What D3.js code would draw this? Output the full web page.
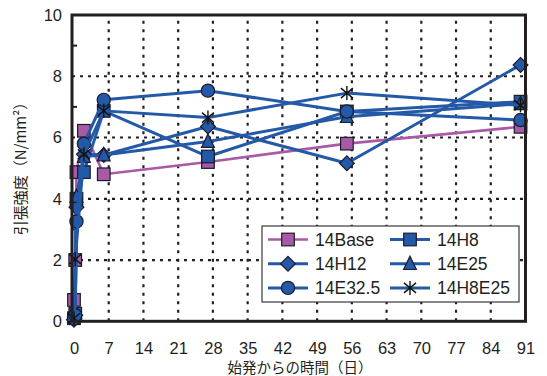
<!DOCTYPE html>
<html>
<head>
<meta charset="utf-8">
<script src="https://cdn.jsdelivr.net/npm/d3@7/dist/d3.min.js"></script>
<style>
  html, body { margin: 0; padding: 0; background: #fff; }
  svg { display: block; }
  text { font-family: "Liberation Sans", Arial, Helvetica, sans-serif; fill: #231f20; }
  .jp { font-family: "Noto Sans CJK JP", "Noto Sans", sans-serif; }
</style>
</head>
<body>
<svg id="chart" width="547" height="376"></svg>
<script>
// Elapsed time (days) at each measurement
const times = [0, 0.25, 0.5, 2, 6, 27, 55, 90];

// Tensile strength (N/mm²) per mix; null = not measured
const base  = [0.7, 2.0, 4.87, 6.22, 4.8, 5.2, 5.8, 6.35];
const h8    = [0.1, 0.25, 4.0, 4.87, 6.87, 5.38, 6.85, 7.17];
const h12   = [0.05, 0.2, 3.72, 5.45, 5.43, 6.36, 5.16, 8.37];
const e25   = [0.15, 0.3, 4.07, 5.38, 5.43, 5.87, 6.68, 7.1];
const e325  = [0.1, 0.2, 3.26, 5.8, 7.23, 7.53, 6.85, 6.57];
const h8e25 = [0.1, 2.03, null, 5.45, 6.87, 6.65, 7.45, 7.05];

const seriesNames = ["14Base", "14H8", "14H12", "14E25", "14E32.5", "14H8E25"];
const seriesValues = [base, h8, h12, e25, e325, h8e25];
const seriesShapes = ["square", "square", "diamond", "triangle", "circle", "star"];

const xTicks = [0, 7, 14, 21, 28, 35, 42, 49, 56, 63, 70, 77, 84, 91];
const yTicks = [0, 2, 4, 6, 8, 10];
const yMinor = [1, 3, 5, 7, 9];

const PINK = "#a85aa7", BLUE = "#2459a8", INK = "#231f20";
const colorOf = i => i === 0 ? PINK : BLUE;

const svg = d3.select("#chart");
const x = d3.scaleLinear().domain([-0.4, 91]).range([72, 525.5]);
const y = d3.scaleLinear().domain([0, 10]).range([321.3, 15]);

// dotted grid
const grid = svg.append("g");
grid.selectAll("line.h").data(yTicks.filter(v => v > 0 && v < 10)).enter().append("line")
  .attr("x1", x.range()[0]).attr("x2", x.range()[1])
  .attr("y1", d => y(d)).attr("y2", d => y(d))
  .attr("stroke", INK).attr("stroke-width", 2.2).attr("stroke-dasharray", "3,5");
grid.selectAll("line.v").data(xTicks.filter(v => v > 0 && v < 91)).enter().append("line")
  .attr("x1", d => x(d)).attr("x2", d => x(d))
  .attr("y1", y(0)).attr("y2", y(10))
  .attr("stroke", INK).attr("stroke-width", 2.2).attr("stroke-dasharray", "3,5.5");

// minor ticks on the left edge
svg.append("g").selectAll("line").data(yMinor).enter().append("line")
  .attr("x1", x.range()[0]).attr("x2", x.range()[0] + 5)
  .attr("y1", d => y(d)).attr("y2", d => y(d))
  .attr("stroke", INK).attr("stroke-width", 2);

// axes (labels only, the frame is drawn separately)
const xAxis = svg.append("g").attr("transform", `translate(0,${y(0)})`)
  .call(d3.axisBottom(x).tickValues(xTicks).tickSize(0).tickPadding(20.5));
const yAxis = svg.append("g").attr("transform", `translate(${x.range()[0]},0)`)
  .call(d3.axisLeft(y).tickValues(yTicks).tickSize(0).tickPadding(10));
[xAxis, yAxis].forEach(g => {
  g.select(".domain").remove();
  g.selectAll("text").attr("font-size", 16.5)
    .attr("font-family", "'Liberation Sans', Arial, sans-serif").attr("fill", INK);
});

// markers
function drawMarker(g, shape, cx, cy, fill) {
  const st = "#1b1b2a";
  if (shape === "square") {
    g.append("rect").attr("x", cx - 6.3).attr("y", cy - 6.3).attr("width", 12.6).attr("height", 12.6)
      .attr("fill", fill).attr("stroke", st).attr("stroke-width", 1.2);
  } else if (shape === "circle") {
    g.append("circle").attr("cx", cx).attr("cy", cy).attr("r", 6.6)
      .attr("fill", fill).attr("stroke", st).attr("stroke-width", 1.2);
  } else if (shape === "diamond") {
    g.append("path").attr("d", `M${cx},${cy - 7.4}L${cx + 7.4},${cy}L${cx},${cy + 7.4}L${cx - 7.4},${cy}Z`)
      .attr("fill", fill).attr("stroke", st).attr("stroke-width", 1.2);
  } else if (shape === "triangle") {
    g.append("path").attr("d", `M${cx},${cy - 7.5}L${cx + 6.4},${cy + 5.8}L${cx - 6.4},${cy + 5.8}Z`)
      .attr("fill", fill).attr("stroke", st).attr("stroke-width", 1.2);
  } else if (shape === "star") {
    g.append("path")
      .attr("d", `M${cx},${cy - 7}L${cx},${cy + 7}M${cx - 6},${cy - 5}L${cx + 6},${cy + 5}M${cx - 6},${cy + 5}L${cx + 6},${cy - 5}`)
      .attr("stroke", "#111").attr("stroke-width", 1.4).attr("fill", "none");
  }
}

// series
const line = d3.line().x(d => x(d.t)).y(d => y(d.v));
const plot = svg.append("g");
seriesValues.forEach((vals, i) => {
  const pts = times.map((t, k) => ({ t, v: vals[k] })).filter(d => d.v !== null);
  const g = plot.append("g");
  g.append("path").datum(pts).attr("d", line)
    .attr("fill", "none").attr("stroke", colorOf(i))
    .attr("stroke-width", i === 0 ? 2.6 : 3).attr("stroke-linejoin", "round");
  pts.forEach(d => drawMarker(g, seriesShapes[i], x(d.t), y(d.v), colorOf(i)));
});

// frame
svg.append("rect")
  .attr("x", x.range()[0]).attr("y", y(10))
  .attr("width", x.range()[1] - x.range()[0]).attr("height", y(0) - y(10))
  .attr("fill", "none").attr("stroke", INK).attr("stroke-width", 3);

// legend
const lg = svg.append("g");
lg.append("rect").attr("x", 262).attr("y", 226).attr("width", 257).attr("height", 76)
  .attr("fill", "#fff").attr("stroke", "#3a3a3a").attr("stroke-width", 1.2);
seriesNames.forEach((name, i) => {
  const col = i % 2, row = Math.floor(i / 2);
  const lx = col === 0 ? 268 : 390;
  const ly = 239.5 + row * 24.2;
  lg.append("line").attr("x1", lx).attr("x2", lx + 40).attr("y1", ly).attr("y2", ly)
    .attr("stroke", colorOf(i)).attr("stroke-width", i === 0 ? 2.6 : 3);
  drawMarker(lg, seriesShapes[i], lx + 20, ly, colorOf(i));
  lg.append("text").attr("x", lx + 47).attr("y", ly + 6.3)
    .attr("font-size", 17.5).text(name);
});

// axis titles
svg.append("text").attr("class", "jp")
  .attr("transform", "translate(26,165) rotate(-90)")
  .attr("text-anchor", "middle").attr("font-size", 15)
  .text("引張強度（N/mm²）");
svg.append("text").attr("class", "jp")
  .attr("x", 300).attr("y", 373)
  .attr("text-anchor", "middle").attr("font-size", 14.5)
  .text("始発からの時間（日）");
</script>
</body>
</html>
